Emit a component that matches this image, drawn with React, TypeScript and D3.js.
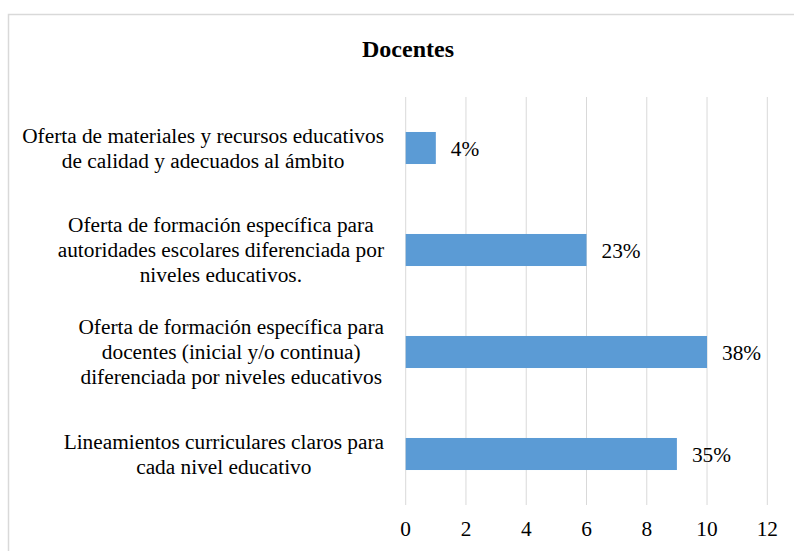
import React, { useLayoutEffect, useRef, useState } from "react";
import * as d3 from "d3";

const title = "Docentes";
const categories: string[][] = [
  ["Oferta de materiales y recursos educativos", "de calidad y adecuados al ámbito"],
  ["Oferta de formación específica para", "autoridades escolares diferenciada por", "niveles educativos."],
  ["Oferta de formación específica para", "docentes (inicial y/o continua)", "diferenciada por niveles educativos"],
  ["Lineamientos curriculares claros para", "cada nivel educativo"],
];
const values = [1, 6, 10, 9];
const valueLabels = ["4%", "23%", "38%", "35%"];
const xTicks = [0, 2, 4, 6, 8, 10, 12];

const W = 794;
const H = 551;
const FONT = "Times New Roman, Liberation Serif, Tinos, serif";
const FS = 21.33;

const x = d3.scaleLinear().domain([0, 12]).range([405.7, 767.3]);
const y = d3
  .scaleBand<number>()
  .domain(d3.range(categories.length))
  .range([97, 505])
  .paddingInner(0.686)
  .paddingOuter(0.343);

const lineH = 25;
const rightEdge = 384;

export default function App() {
  const groupRefs = useRef<(SVGGElement | null)[]>([]);
  const [widths, setWidths] = useState<number[]>(categories.map(() => 0));

  useLayoutEffect(() => {
    const w = groupRefs.current.map((g) => {
      if (!g) return 0;
      let m = 0;
      g.querySelectorAll("text").forEach((t) => {
        m = Math.max(m, (t as SVGTextElement).getComputedTextLength());
      });
      return m;
    });
    setWidths(w);
  }, []);

  return (
    <svg
      width={W}
      height={H}
      style={{ position: "absolute", left: 0, top: 0, display: "block" }}
    >
      <rect x={8.5} y={14.5} width={820} height={620} fill="#fff" stroke="#d9d9d9" strokeWidth={1.5} />
      <text x={408} y={57} textAnchor="middle" fontFamily={FONT} fontWeight="bold" fontSize={24} fill="#000">
        {title}
      </text>
      {xTicks.map((t) => (
        <line key={"g" + t} x1={x(t)} x2={x(t)} y1={97} y2={505} stroke="#d9d9d9" strokeWidth={1} />
      ))}
      {xTicks.map((t) => (
        <text key={"t" + t} x={x(t)} y={536} textAnchor="middle" fontFamily={FONT} fontSize={FS} fill="#000">
          {t}
        </text>
      ))}
      {values.map((v, i) => (
        <rect key={"b" + i} x={x(0)} y={y(i)} width={x(v) - x(0)} height={y.bandwidth()} fill="#5b9bd5" />
      ))}
      {values.map((v, i) => (
        <text
          key={"v" + i}
          x={x(v) + 15}
          y={(y(i) as number) + y.bandwidth() / 2 + 8}
          fontFamily={FONT}
          fontSize={FS}
          fill="#000"
        >
          {valueLabels[i]}
        </text>
      ))}
      {categories.map((lines, i) => {
        const cy = (y(i) as number) + y.bandwidth() / 2;
        const cx = rightEdge - widths[i] / 2;
        return (
          <g key={"c" + i} ref={(el) => { groupRefs.current[i] = el; }}>
            {lines.map((ln, j) => (
              <text
                key={j}
                x={cx}
                y={cy + (j - (lines.length - 1) / 2) * lineH + 7}
                textAnchor="middle"
                fontFamily={FONT}
                fontSize={FS}
                fill="#000"
              >
                {ln}
              </text>
            ))}
          </g>
        );
      })}
    </svg>
  );
}
